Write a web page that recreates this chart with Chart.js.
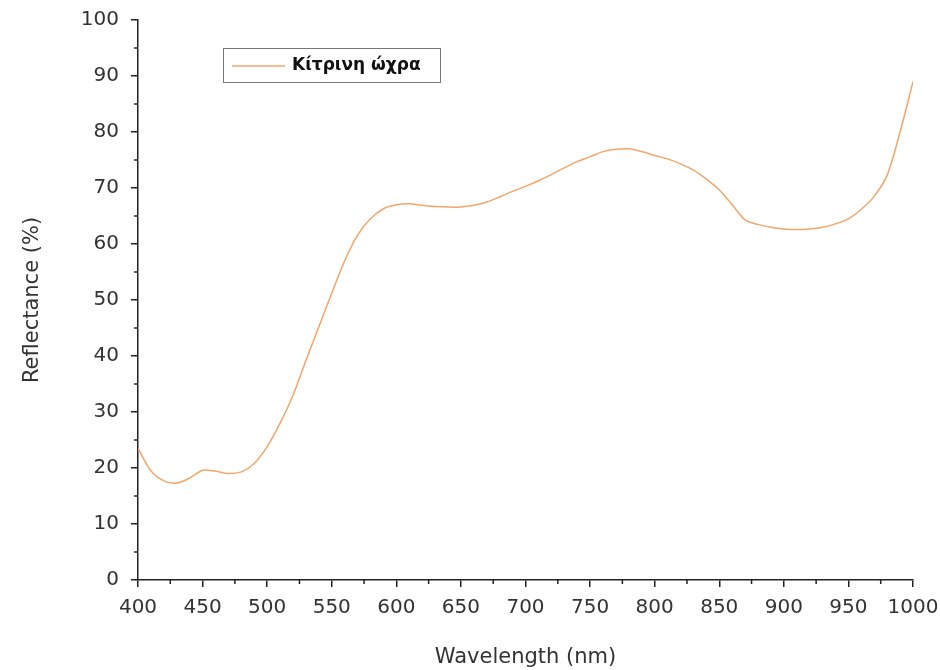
<!DOCTYPE html>
<html>
<head>
<meta charset="utf-8">
<title>Reflectance</title>
<script src="https://cdn.jsdelivr.net/npm/chart.js@4.4.1/dist/chart.umd.min.js"></script>
<style>
    html, body { margin: 0; padding: 0; background: #fff; }
    #wrap { width: 940px; height: 670px; }
</style>
</head>
<body>
<div id="wrap"><canvas id="line-chart" width="940" height="670"></canvas></div>
<script>
var seriesLabel = "Κίτρινη ώχρα";
var wavelengths = [400, 410, 420, 430, 440, 450, 460, 470, 480, 490,
    500, 510, 520, 530, 540, 550, 560, 570, 580, 590,
    600, 610, 620, 630, 640, 650, 660, 670, 680, 690,
    700, 710, 720, 730, 740, 750, 760, 770, 780, 790,
    800, 810, 820, 830, 840, 850, 860, 870, 880, 890,
    900, 910, 920, 930, 940, 950, 960, 970, 980, 990, 1000];
var reflectance = [23.5, 19.5, 17.7, 17.3, 18.2, 19.6, 19.4, 19.0, 19.3, 20.8,
    23.8, 28.0, 33.0, 39.2, 45.2, 51.2, 57.0, 61.6, 64.5, 66.3,
    67.0, 67.2, 66.9, 66.7, 66.6, 66.6, 66.9, 67.5, 68.4, 69.4,
    70.3, 71.3, 72.4, 73.6, 74.7, 75.6, 76.5, 76.9, 77.0, 76.5,
    75.8, 75.2, 74.3, 73.2, 71.6, 69.7, 67.0, 64.3, 63.5, 63.0,
    62.7, 62.6, 62.7, 63.0, 63.6, 64.5, 66.2, 68.5, 72.3, 80.0, 89.0];
var xMinorTicks = [425, 475, 525, 575, 625, 675, 725, 775, 825, 875, 925, 975];
var yMinorTicks = [5, 15, 25, 35, 45, 55, 65, 75, 85, 95];

var lineColor = "#f2a66a";
var axisColor = "#222";

var points = wavelengths.map(function(w, i) {
    return { x: w, y: reflectance[i] };
});

// short ticks between the labelled ones
var minorTicks = {
    id: 'minorTicks',
    afterDraw: function(chart) {
        var ctx = chart.ctx;
        var xs = chart.scales.x, ys = chart.scales.y;
        ctx.save();
        ctx.strokeStyle = axisColor;
        ctx.lineWidth = 1.5;
        ctx.beginPath();
        xMinorTicks.forEach(function(v) {
            var px = xs.getPixelForValue(v);
            ctx.moveTo(px, xs.top);
            ctx.lineTo(px, xs.top + 4);
        });
        yMinorTicks.forEach(function(v) {
            var py = ys.getPixelForValue(v);
            ctx.moveTo(ys.right, py);
            ctx.lineTo(ys.right - 4, py);
        });
        ctx.stroke();
        ctx.restore();
    }
};

// boxed legend inside the plot, as in the original figure
var boxLegend = {
    id: 'boxLegend',
    afterDraw: function(chart) {
        var ctx = chart.ctx;
        var ds = chart.data.datasets[0];
        ctx.save();
        ctx.strokeStyle = "#777";
        ctx.lineWidth = 1;
        ctx.strokeRect(223.5, 48.5, 217, 34);
        ctx.strokeStyle = ds.borderColor;
        ctx.lineWidth = 1.5;
        ctx.beginPath();
        ctx.moveTo(232, 66);
        ctx.lineTo(285, 66);
        ctx.stroke();
        ctx.fillStyle = "#111";
        ctx.font = "bold 17px 'DejaVu Sans'";
        ctx.textBaseline = "middle";
        ctx.fillText(ds.label, 292, 66);
        ctx.restore();
    }
};

new Chart(document.getElementById("line-chart"), {
    type: 'line',
    data: {
        datasets: [{
            label: seriesLabel,
            data: points,
            borderColor: lineColor,
            borderWidth: 1.5,
            pointRadius: 0,
            tension: 0.3,
            fill: false
        }]
    },
    options: {
        responsive: false,
        animation: false,
        layout: {
            padding: { left: 0, right: 27, top: 20, bottom: 0 }
        },
        plugins: {
            legend: { display: false },
            tooltip: { enabled: false }
        },
        scales: {
            x: {
                type: 'linear',
                min: 400,
                max: 1000,
                afterFit: function(scale) {
                    scale.height = 90;
                    scale.paddingLeft = 0;
                    scale.paddingRight = 0;
                },
                border: { display: true, color: axisColor, width: 1.5 },
                grid: { drawOnChartArea: false, drawTicks: true, tickLength: 7, color: axisColor, lineWidth: 1.5 },
                ticks: {
                    stepSize: 50,
                    padding: 9,
                    maxRotation: 0,
                    color: "#333",
                    font: { family: "'DejaVu Sans'", size: 20 },
                    callback: function(v) { return String(v); }
                },
                title: {
                    display: true,
                    text: 'Wavelength (nm)',
                    color: "#333",
                    padding: { top: 3, bottom: 0 },
                    font: { family: "'DejaVu Sans'", size: 21 }
                }
            },
            y: {
                min: 0,
                max: 100,
                afterFit: function(scale) {
                    scale.width = 138;
                    scale.paddingTop = 0;
                    scale.paddingBottom = 0;
                },
                border: { display: true, color: axisColor, width: 1.5 },
                grid: { drawOnChartArea: false, drawTicks: true, tickLength: 7, color: axisColor, lineWidth: 1.5 },
                ticks: {
                    stepSize: 10,
                    padding: 12,
                    color: "#333",
                    font: { family: "'DejaVu Sans'", size: 20 }
                },
                title: {
                    display: true,
                    text: 'Reflectance (%)',
                    color: "#333",
                    padding: { top: 20, bottom: 0 },
                    font: { family: "'DejaVu Sans'", size: 21 }
                }
            }
        }
    },
    plugins: [minorTicks, boxLegend]
});
</script>
</body>
</html>
